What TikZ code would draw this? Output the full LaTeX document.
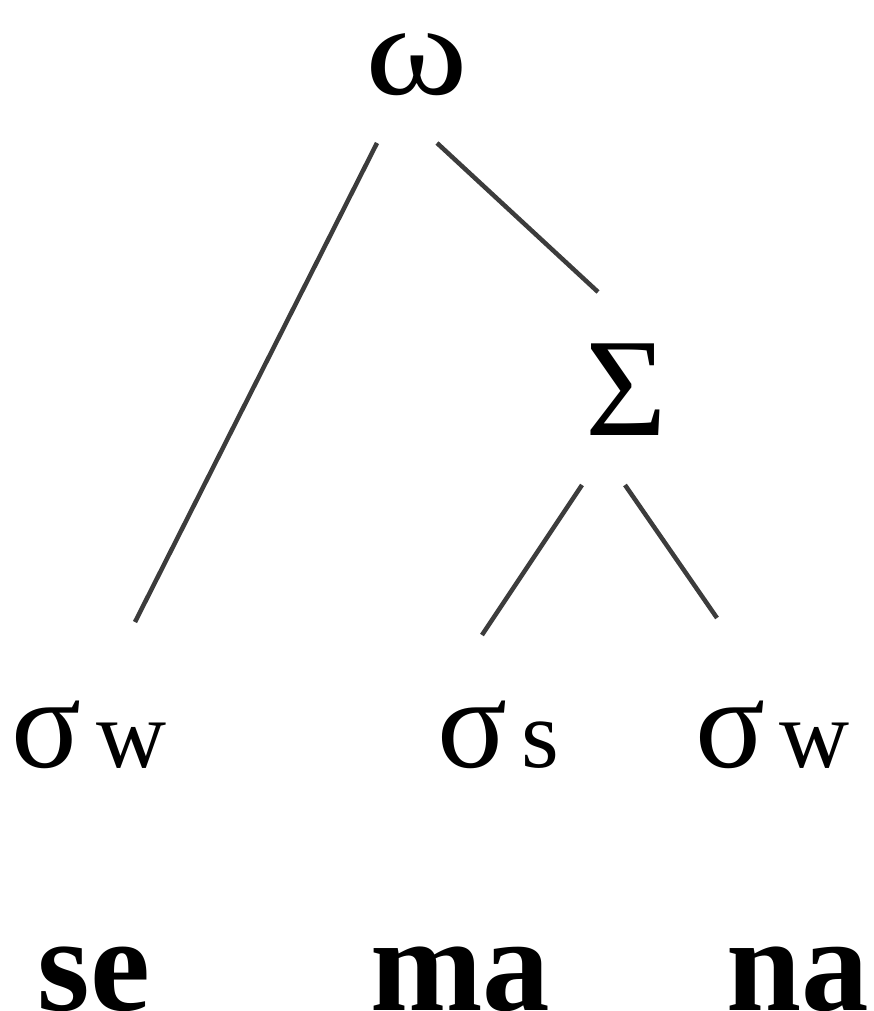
\documentclass[tikz,border=0pt]{standalone}
\usepackage{fontspec}
\setmainfont{Liberation Serif}
\usetikzlibrary{calc}
\definecolor{branch}{HTML}{3C3C3C}
\tikzset{
  lbl/.style={inner sep=0pt, outer sep=0pt, text=black},
  syl/.style={lbl, anchor=base west},
  seg/.style={lbl, anchor=base, font=\fontsize{135}{135}\selectfont\bfseries},
  edge/.style={draw=branch, line width=4.5pt, line cap=butt}
}
% syllable label: sigma with a small weight letter beside it
\newcommand{\sylnode}[1]{{\fontsize{130}{130}\selectfont σ}\hspace{14pt}{\fontsize{97}{97}\selectfont #1}}
\begin{document}
\begin{tikzpicture}[x=1pt, y=-1pt]
  \useasboundingbox (0,0) rectangle (873,1011);
  % prosodic word and foot
  \node[lbl, anchor=base, text height=60pt, text depth=0pt,
        font=\fontsize{130}{130}\selectfont] (omega) at (417,95) {\scalebox{1.2}[1]{ω}};
  \node[lbl, anchor=base, text height=96pt, text depth=0pt,
        font=\fontsize{140}{140}\selectfont] (Sigma) at (626,435) {Σ};
  % syllables
  \node[syl] (s1) at (12,767) {\sylnode{w}};
  \node[syl] (s2) at (437,767) {\sylnode{s}};
  \node[syl] (s3) at (695,767) {\sylnode{w}};
  % segmental string
  \node[seg] (t1) at (94,1010) {se};
  \node[seg] (t2) at (460,1010) {ma};
  \node[seg] (t3) at (798,1010) {na};
  % branches
  \draw[edge] ($(omega.base)+(-40,48)$) -- ($(s1.base west)+(123,-145)$);
  \draw[edge] ($(omega.base)+(20,48)$) -- ($(Sigma.base)+(-28,-143)$);
  \draw[edge] ($(Sigma.base)+(-44,50)$) -- ($(s2.base west)+(45,-132)$);
  \draw[edge] ($(Sigma.base)+(-1,50)$) -- ($(s3.base west)+(22,-149)$);
\end{tikzpicture}
\end{document}
